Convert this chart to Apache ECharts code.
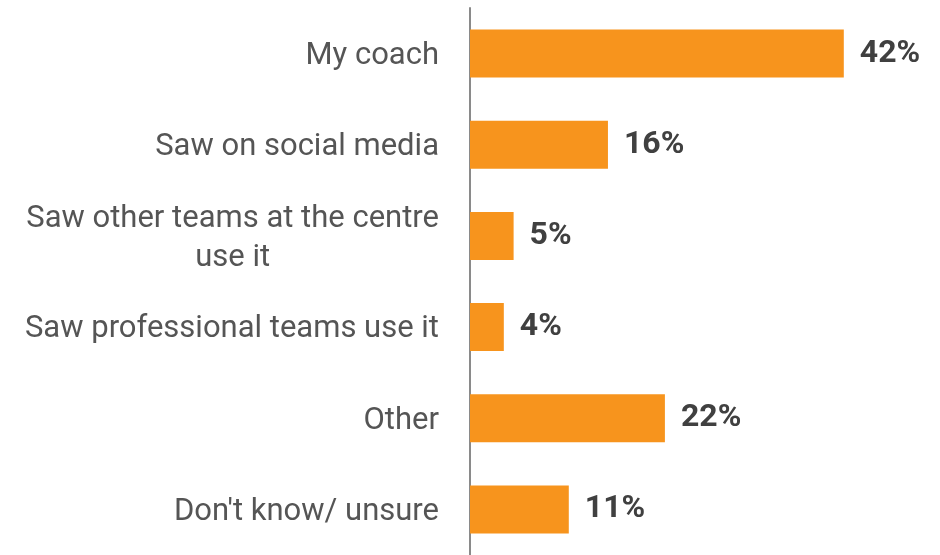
<!DOCTYPE html>
<html>
<head>
<meta charset="utf-8">
<script src="https://cdn.jsdelivr.net/npm/echarts@6/dist/echarts.min.js"></script>
<style>html,body{margin:0;padding:0;background:#fff;}#c{width:940px;height:555px;}</style>
</head>
<body>
<div id="c"></div>
<script>
const categories = ["My coach", "Saw on social media", "Saw other teams at the centre\nuse it", "Saw professional teams use it", "Other", "Don't know/ unsure"];
const values = [42, 15.5, 4.9, 3.8, 21.9, 11.1];
const valueLabels = ["42%", "16%", "5%", "4%", "22%", "11%"];

const chart = echarts.init(document.getElementById('c'), null, {renderer: 'canvas'});
chart.setOption({
  animation: false,
  backgroundColor: '#ffffff',
  grid: {left: 470, right: 25, top: 8, bottom: -3, containLabel: false},
  xAxis: {
    type: 'value', min: 0, max: 50, show: false
  },
  yAxis: {
    type: 'category', inverse: true, data: categories,
    axisLine: {show: true, lineStyle: {color: '#8a8a8a', width: 2}},
    axisTick: {show: false},
    axisLabel: {
      margin: 31, align: 'right',
      formatter: function (v) { return '{c|' + v.split('\n').join('}\n{c|') + '}'; },
      rich: {c: {align: 'center', fontFamily: 'Roboto', fontSize: 31, color: '#555555', lineHeight: 39, padding: [5, 0, 0, 0]}}
    }
  },
  series: [{
    type: 'bar', data: values, barWidth: 48,
    itemStyle: {color: '#F7941D'},
    label: {
      show: true, position: 'right', distance: 16,
      formatter: function (p) { return valueLabels[p.dataIndex]; },
      fontFamily: 'Roboto', fontWeight: 'bold', fontSize: 32, color: '#404040', padding: [5, 0, 0, 0]
    }
  }]
});
</script>
</body>
</html>
